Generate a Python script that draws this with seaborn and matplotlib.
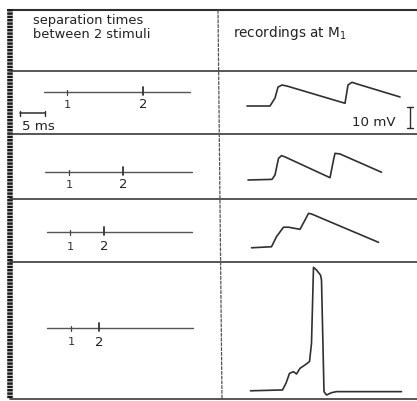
import matplotlib
matplotlib.use("Agg")
import matplotlib.pyplot as plt
import seaborn as sns
import pandas as pd

# ---------------- data ----------------
header_left = ["separation times", "between 2 stimuli"]
header_right = "recordings at M$_1$"
stim_labels = ["1", "2"]

# stimulus timelines (ms)
stim1_ms = [5.4, 5.8, 6.0, 6.2]
separation_ms = [15.2, 10.8, 6.8, 5.6]
axis_start_ms = [0.8, 1.0, 1.4, 1.4]
axis_end_ms = [30.0, 30.4, 30.4, 30.6]

# recordings: time (ms), potential change (mV)
trace1_t = [0.4, 5.0, 6.0, 6.6, 7.4, 8.4, 20.0, 20.6, 21.4, 22.4, 31.0]
trace1_v = [0.0, 0.0, 3.8, 9.0, 10.0, 9.5, 1.3, 10.0, 11.3, 10.5, 4.3]

trace2_t = [0.6, 5.4, 6.0, 6.7, 7.3, 8.0, 17.0, 17.7, 18.0, 19.0, 27.3]
trace2_v = [0.0, 0.3, 2.4, 10.3, 11.6, 11.0, 1.1, 9.5, 12.7, 12.4, 3.7]

trace3_t = [1.3, 5.3, 6.3, 7.7, 8.7, 11.0, 12.0, 12.7, 13.3, 26.7]
trace3_v = [0.1, 0.6, 5.4, 9.9, 9.9, 8.9, 13.3, 16.5, 16.2, 2.7]

trace4_t = [1.1, 7.5, 8.2, 8.9, 9.7, 10.3, 11.0, 12.0, 12.9, 13.3, 13.7,
            14.3, 15.1, 15.3, 15.8, 16.3, 17.3, 18.3, 31.3]
trace4_v = [0.1, 0.5, 3.7, 8.4, 9.2, 8.1, 10.8, 12.4, 14.0, 22.7, 58.9,
            57.6, 55.2, 52.9, -0.3, -1.9, -0.8, -0.3, -0.3]

traces = [(trace1_t, trace1_v), (trace2_t, trace2_v),
          (trace3_t, trace3_v), (trace4_t, trace4_v)]

time_bar_ms = 5
volt_bar_mv = 10
time_bar_label = "5 ms"
volt_bar_label = "10 mV"

# ---------------- layout (pixels) ----------------
W, H = 417, 401
PX_MS = 5.0      # pixels per ms
PX_MV = 2.1      # pixels per mV
row_edges = [71, 134, 199, 262, 399]
timeline_y = [92, 172, 232, 328]
baseline_y = [106, 180, 248, 391]
label_off = [13, 13, 15, 14]
left_x0, div_x, right_x1 = 13, 219, 417
tl_origin_x, tr_origin_x = 40, 245

sns.set_style("white")
plt.rcParams["font.family"] = ["DejaVu Sans"]
plt.rcParams["mathtext.default"] = "regular"

fig = plt.figure(figsize=(W / 100, H / 100), dpi=100)
main = fig.add_axes([0, 0, 1, 1])
main.set_xlim(0, W)
main.set_ylim(H, 0)
main.axis("off")

ink = "#2e2e2e"
# table frame
main.plot([7, W], [10, 10], color=ink, lw=1.5, solid_capstyle="butt")
main.plot([10.3, 10.3], [9, 399], color="#1a1a1a", lw=4.0,
          dashes=(0.45, 0.15), solid_capstyle="butt")
for y in row_edges:
    main.plot([10, W], [y, y], color="#3a3a3a", lw=1.2)
main.plot([218, 222], [10, 399], color="#555555", lw=0.9, dashes=(3, 0.8))

# header text
hfs = 9.4
main.text(33, 24.0, header_left[0], fontsize=hfs, color="#222", va="baseline")
main.text(33, 37.5, header_left[1], fontsize=hfs, color="#222", va="baseline")
main.text(233, 36.5, header_right, fontsize=9.8, color="#222", va="baseline")


def add_box(x0, y0, x1, y1):
    ax = fig.add_axes([x0 / W, 1 - y1 / H, (x1 - x0) / W, (y1 - y0) / H])
    ax.axis("off")
    return ax


for i in range(4):
    y0, y1 = row_edges[i] + 1, row_edges[i + 1] - 1
    # ---- stimulus timeline ----
    ax = add_box(left_x0, y0, div_x - 1, y1)
    ax.set_xlim((left_x0 - tl_origin_x) / PX_MS, (div_x - 1 - tl_origin_x) / PX_MS)
    ax.set_ylim(timeline_y[i] - y1, timeline_y[i] - y0)   # pixels, up positive
    tl = pd.DataFrame({"t": [axis_start_ms[i], axis_end_ms[i]], "y": [0, 0]})
    sns.lineplot(data=tl, x="t", y="y", ax=ax, color="#555555", lw=1.0,
                 estimator=None, sort=False)
    s1 = stim1_ms[i]
    s2 = stim1_ms[i] + separation_ms[i]
    ax.plot([s1, s1], [-3, 2.5], color="#444", lw=0.9)
    ax.plot([s2, s2], [-3, 5], color="#333", lw=1.3)
    ax.text(s1, -label_off[i], stim_labels[0], ha="center", va="center",
            fontsize=8.2, color="#333")
    ax.text(s2, -label_off[i], stim_labels[1], ha="center", va="center",
            fontsize=9.5, color="#222")
    if i == 0:
        bx0 = (20 - tl_origin_x) / PX_MS
        bx1 = bx0 + time_bar_ms
        ax.plot([bx0, bx1], [-21, -21], color=ink, lw=1.1)
        ax.plot([bx0, bx0], [-18.5, -23.5], color=ink, lw=1.0)
        ax.plot([bx1, bx1], [-18.5, -23.5], color=ink, lw=1.0)
        ax.text(bx0 + 0.5, -34.5, time_bar_label, fontsize=9.6, color="#222",
                va="center", ha="left")

    # ---- recording ----
    ax = add_box(div_x + 2, y0, right_x1, y1)
    ax.set_xlim((div_x + 2 - tr_origin_x) / PX_MS, (right_x1 - tr_origin_x) / PX_MS)
    ax.set_ylim((baseline_y[i] - y1) / PX_MV, (baseline_y[i] - y0) / PX_MV)
    t, v = traces[i]
    df = pd.DataFrame({"t": t, "v": v})
    sns.lineplot(data=df, x="t", y="v", ax=ax, color="#303030", lw=1.2,
                 estimator=None, sort=False)
    if i == 0:
        vx = (410 - tr_origin_x) / PX_MS
        vb0 = (baseline_y[0] - 128) / PX_MV
        vb1 = vb0 + volt_bar_mv
        ax.plot([vx, vx], [vb0, vb1], color=ink, lw=1.0)
        ax.plot([vx - 0.6, vx + 0.6], [vb0, vb0], color=ink, lw=1.0)
        ax.plot([vx - 0.6, vx + 0.6], [vb1, vb1], color=ink, lw=1.0)
        ax.text((396 - tr_origin_x) / PX_MS, (baseline_y[0] - 122) / PX_MV,
                volt_bar_label, fontsize=9.6, color="#222", ha="right", va="center")

fig.savefig("out.png", dpi=100)
